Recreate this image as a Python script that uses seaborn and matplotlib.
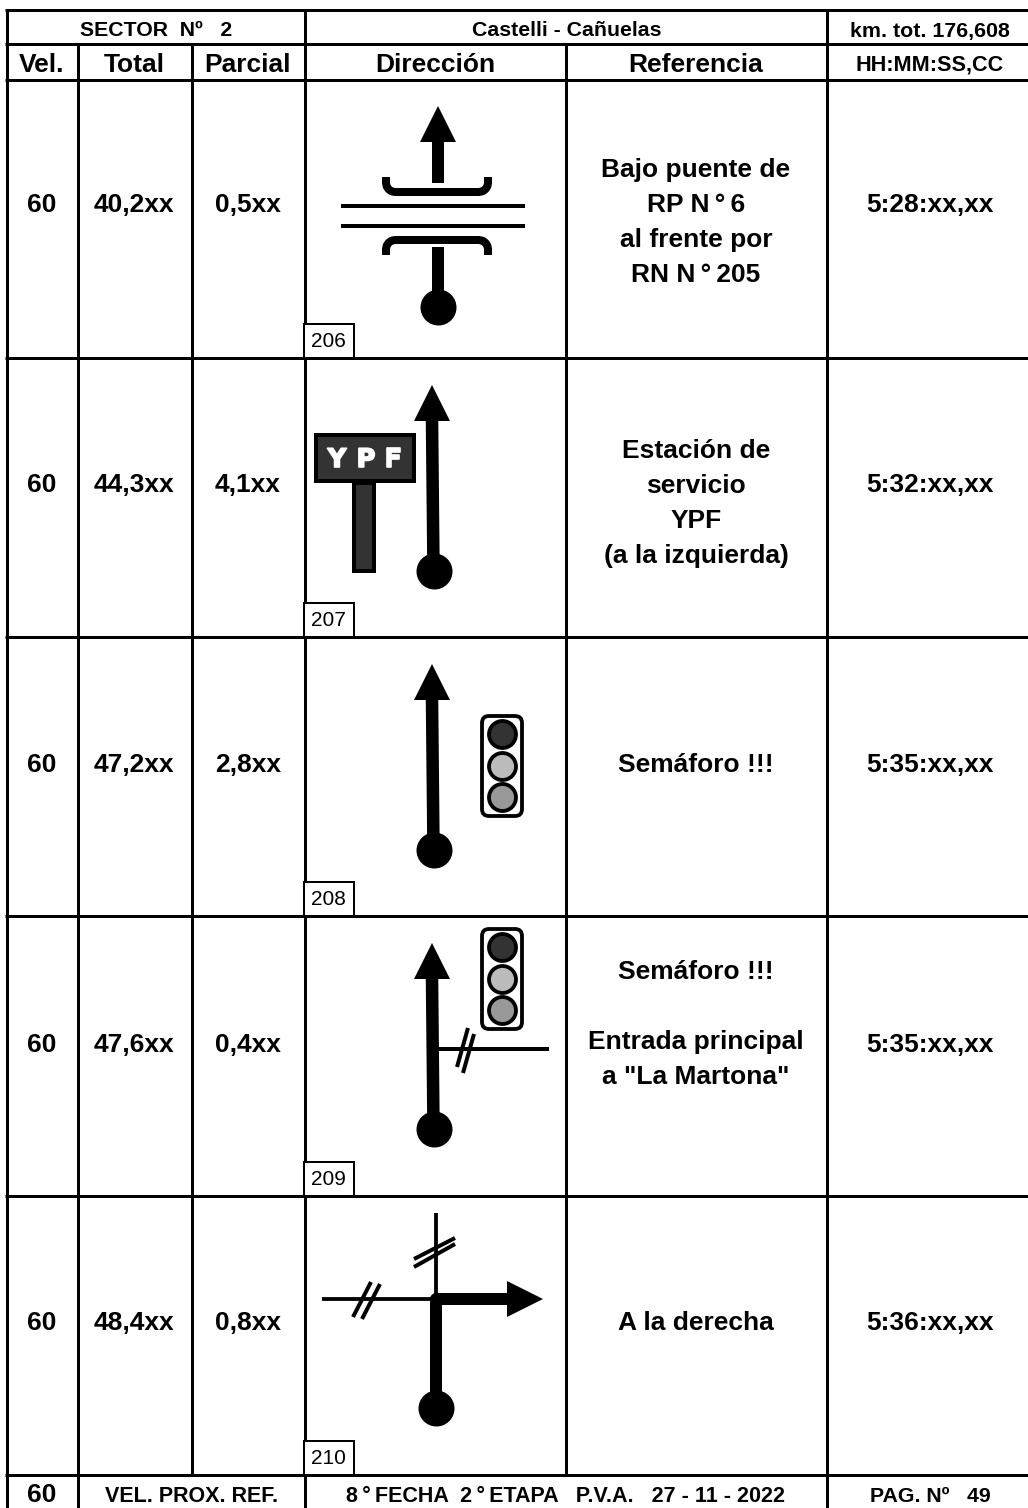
import matplotlib
matplotlib.use("Agg")
import matplotlib.pyplot as plt
import matplotlib.patheffects as pe
import seaborn as sns
from matplotlib.patches import Rectangle, Polygon, FancyBboxPatch

# table contents
velocidades = ["60", "60", "60", "60", "60"]
totales = ["40,2xx", "44,3xx", "47,2xx", "47,6xx", "48,4xx"]
parciales = ["0,5xx", "4,1xx", "2,8xx", "0,4xx", "0,8xx"]
horarios = ["5:28:xx,xx", "5:32:xx,xx", "5:35:xx,xx", "5:35:xx,xx", "5:36:xx,xx"]
cajas = ["206", "207", "208", "209", "210"]
referencias = [
    ["Bajo puente de", "RP N\u2009°\u20096", "al frente por", "RN N\u2009°\u2009205"],
    ["Estación de", "servicio", "YPF", "(a la izquierda)"],
    ["Semáforo !!!"],
    ["Semáforo !!!", "", "Entrada principal", 'a "La Martona"'],
    ["A la derecha"],
]
columnas = ["Vel.", "Total", "Parcial", "Dirección", "Referencia"]

# grid, in pixels of the page
W, H = 1028, 1508
X_COLS = [6.5, 77.5, 191.5, 304.5, 565.5, 826.5]
Y_ROWS = [79.5, 358, 637, 916, 1196, 1475]
CX = [42, 134, 248, 435, 696, 930]
CY_NUM = [203, 483, 762, 1042, 1320]
CY_REF = [220, 501, 762, 1022, 1320]
LINE_STEP = 34.7
PX = 0.72  # px to points at dpi 100

sns.set_theme(style="white")
plt.rcParams["font.family"] = ["Liberation Sans", "DejaVu Sans"]

fig = plt.figure(figsize=(W / 100, H / 100), dpi=100)
ax = fig.add_axes([0, 0, 1, 1])


def line(xs, ys, width, cap="butt"):
    sns.lineplot(x=xs, y=ys, ax=ax, color="black", linewidth=width * PX, sort=False,
                 estimator=None, legend=False, solid_capstyle=cap, solid_joinstyle="round")


def dot(x, y, diameter=36):
    sns.scatterplot(x=[x], y=[y], ax=ax, color="black", s=(diameter * PX) ** 2, linewidth=0,
                    legend=False, zorder=4)


def arrow_up(tip_y, x=432, dot_y=None):
    ax.add_patch(Polygon([[x, tip_y], [x - 18, tip_y + 36], [x + 18, tip_y + 36]],
                         closed=True, fc="black", ec="none", zorder=4))
    if dot_y is not None:
        line([x, x + 1.5], [tip_y + 34, dot_y], 12.5)
        dot(x + 1.5, dot_y)


def semaforo(top):
    ax.add_patch(FancyBboxPatch((482, top + 2), 40, 100, boxstyle="round,pad=0,rounding_size=7",
                                fc="white", ec="black", lw=3.8 * PX, zorder=3))
    for dy, col in zip([20, 51.5, 83], ["#333333", "#bbbbbb", "#999999"]):
        sns.scatterplot(x=[502], y=[top + dy], ax=ax, color=col, s=(27 * PX) ** 2, edgecolor="black",
                        linewidth=3.8 * PX, legend=False, zorder=4)


def bracket(y_flat, y_end):
    # curved corners of the bridge rails, r is signed towards the leg ends
    r = 9 if y_end > y_flat else -9
    line([386, 386, 386.7, 388.6, 391.4, 395, 479, 482.6, 485.4, 487.3, 488, 488],
         [y_end, y_flat + r, y_flat + r * 0.62, y_flat + r * 0.3, y_flat + r * 0.08, y_flat,
          y_flat, y_flat + r * 0.08, y_flat + r * 0.3, y_flat + r * 0.62, y_flat + r, y_end], 8)


# table frame
for y in [10, 44, 79.5] + Y_ROWS[1:]:
    ax.plot([5, W], [y, y], color="black", lw=3 * PX, solid_capstyle="butt", zorder=2)
ax.plot([6.5, 6.5], [8.5, H], color="black", lw=3 * PX, solid_capstyle="butt", zorder=2)
for x in X_COLS[1:3] + X_COLS[4:5]:
    ax.plot([x, x], [44, 1475], color="black", lw=3 * PX, solid_capstyle="butt", zorder=2)
for x in [X_COLS[3], X_COLS[5]]:
    ax.plot([x, x], [10, H], color="black", lw=3 * PX, solid_capstyle="butt", zorder=2)
ax.plot([77.5, 77.5], [1475, H], color="black", lw=3 * PX, solid_capstyle="butt", zorder=2)


def txt(x, y, s, size=19, weight="bold", color="black", family=None):
    return ax.text(x, y, s, fontsize=size, fontweight=weight, color=color, ha="center", va="center_baseline",
                   family=family if family else ["Liberation Sans", "DejaVu Sans"], zorder=6)


# headers
txt(156.5, 29, "SECTOR  Nº   2", 15.3)
txt(566.5, 29, "Castelli - Cañuelas", 15.3)
txt(930, 29, "km. tot. 176,608", 15.4)
for cx, label in zip(CX, columnas):
    txt(cx, 63, label)
txt(CX[5], 63, "HH:MM:SS,CC", 15.6)

# rows
for i in range(5):
    txt(CX[0], CY_NUM[i], velocidades[i])
    txt(CX[1], CY_NUM[i], totales[i])
    txt(CX[2], CY_NUM[i], parciales[i])
    txt(CX[5], CY_NUM[i], horarios[i])
    lines = referencias[i]
    for k, s in enumerate(lines):
        if s:
            txt(CX[4], CY_REF[i] + (k - (len(lines) - 1) / 2) * LINE_STEP, s)
    yb = Y_ROWS[i + 1]
    ax.add_patch(Rectangle((303.5, yb - 34.5), 50, 34.5, fc="white", ec="black", lw=2 * PX, zorder=5))
    txt(328.5, yb - 18.5, cajas[i], 15, "normal")

# 206 bridge
arrow_up(106, x=438)
line([438, 438], [140, 183], 12)
line([438, 438], [247, 307], 12)
dot(438, 307)
line([341, 525], [206, 206], 4)
line([341, 525], [225.5, 225.5], 4)
bracket(192, 177)
bracket(240, 255)

# 207 YPF sign and arrow
arrow_up(385, dot_y=571)
ax.add_patch(Rectangle((316, 435), 98, 46, fc="#333333", ec="black", lw=4 * PX, zorder=3))
ax.add_patch(Rectangle((354, 483), 20, 88, fc="#333333", ec="black", lw=4 * PX, zorder=3))
for lx, ch in zip([337, 366, 393], "YPF"):
    t = txt(lx, 457, ch, 18.5, "bold", "white", "DejaVu Sans")
    t.set_path_effects([pe.withStroke(linewidth=1.2, foreground="white")])

# 208 traffic light
arrow_up(664, dot_y=850)
semaforo(714)

# 209 traffic light and side road
arrow_up(943, dot_y=1129)
semaforo(927)
line([438, 549], [1049, 1049], 4)
line([468, 457], [1028, 1067], 4)
line([474, 463], [1034, 1073], 4)

# 210 right turn
line([436, 436], [1213, 1299], 3.8)
line([322, 436], [1299, 1299], 3.8)
line([414, 455], [1259, 1238], 4)
line([414, 455], [1267, 1244], 4)
line([371, 353], [1282, 1317], 4)
line([380, 362], [1284, 1319], 4)
line([436, 436, 509], [1408, 1299, 1299], 12)
dot(436, 1408)
ax.add_patch(Polygon([[543, 1299], [507, 1281], [507, 1317]], closed=True, fc="black", ec="none", zorder=4))

# footer
txt(42, 1493, "60")
txt(191.5, 1494, "VEL. PROX. REF.", 15.5)
txt(566, 1494, "8\u2009°\u2009FECHA  2\u2009°\u2009ETAPA   P.V.A.   27 - 11 - 2022", 15.5)
txt(930, 1494, "PAG. Nº   49", 15.3)

ax.set_xlim(0, W)
ax.set_ylim(H, 0)
ax.axis("off")
fig.savefig("out.png", dpi=100, facecolor="white")
